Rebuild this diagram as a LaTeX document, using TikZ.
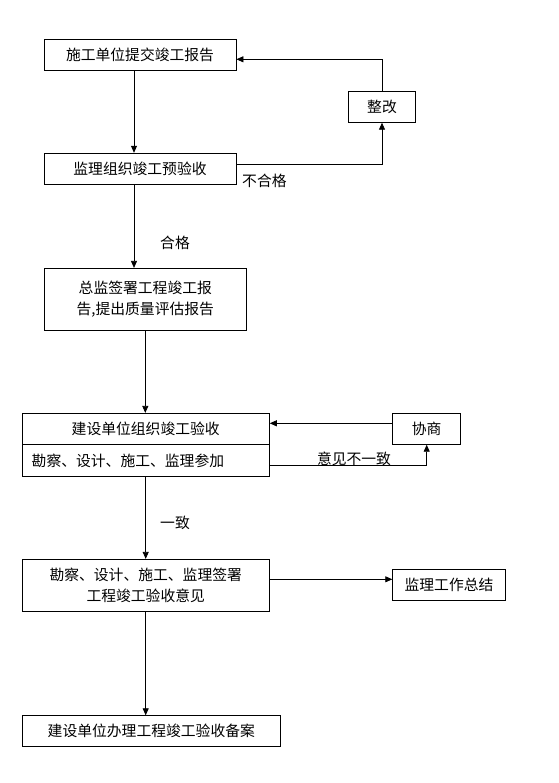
\documentclass[tikz,border=0pt]{standalone}
\usepackage{fontspec}
\setmainfont{Noto Sans CJK SC}
\usetikzlibrary{arrows.meta,calc}
\begin{document}
\begin{tikzpicture}[x=1pt,y=-1pt,
  every node/.style={font=\fontsize{14.8pt}{21pt}\selectfont},
  box/.style={draw,line width=0.8pt,inner sep=0pt,align=center},
  arr/.style={line width=0.8pt,-{Triangle[length=7pt,width=6pt]}},
  ln/.style={line width=0.8pt},
  lbl/.style={inner sep=0pt}]
\useasboundingbox (0,0) rectangle (558,783);
\node[box,minimum width=192pt,minimum height=31pt] (b1) at (140,54.7) {施工单位提交竣工报告};
\node[box,minimum width=192pt,minimum height=31pt] (b2) at (140,168.7) {监理组织竣工预验收};
\node[box,minimum width=67.7pt,minimum height=31pt] (zg) at (382,106.8) {整改};
\node[box,minimum width=202.7pt,minimum height=62pt] (b3) at (145.3,299.3) {总监签署工程竣工报\\告,提出质量评估报告};
\node[box,minimum width=247.3pt,minimum height=31pt] (b4t) at (145.7,428.8) {建设单位组织竣工验收};
\node[box,minimum width=247.3pt,minimum height=32.3pt,text width=228pt,align=left] (b4b) at (145.7,460.5) {勘察、设计、施工、监理参加};
\node[box,minimum width=68pt,minimum height=31pt] (xs) at (426.7,428.8) {协商};
\node[box,minimum width=247.3pt,minimum height=52pt] (b5) at (145.7,585.3) {勘察、设计、施工、监理签署\\工程竣工验收意见};
\node[box,minimum width=112.6pt,minimum height=31pt] (sum) at (449,584.8) {监理工作总结};
\node[box,minimum width=258.7pt,minimum height=30.6pt] (b6) at (151.3,731) {建设单位办理工程竣工验收备案};

\node[lbl,anchor=west] (l1) at (242,181) {不合格};
\node[lbl] (l2) at (175,242.7) {合格};
\node[lbl] (l3) at (354,459) {意见不一致};
\node[lbl] (l4) at (175,522.7) {一致};

\draw[arr] ([xshift=-6pt]b1.south) -- ([xshift=-6pt]b2.north);
\draw[arr] ([yshift=4.4pt]b2.east) -| (zg.south);
\draw[arr] (zg.north) |- ([yshift=-4.6pt]b1.east);
\draw[arr] ([xshift=-6pt]b2.south) -- ([xshift=-6pt]b2.south |- b3.north);
\draw[arr] (b3.south) -- (b3.south |- b4t.north);
\draw[arr] ([yshift=5.5pt]xs.west) -- ([yshift=5.5pt]xs.west -| b4t.east);
\draw[arr] ([yshift=-5.2pt]b4b.east) -| (xs.south);
\draw[arr] (b4b.south) -- (b5.north);
\draw[arr] ([yshift=6pt]b5.east) -- ([yshift=6pt]b5.east -| sum.west);
\draw[arr] (b5.south) -- (b5.south |- b6.north);
\end{tikzpicture}
\end{document}
